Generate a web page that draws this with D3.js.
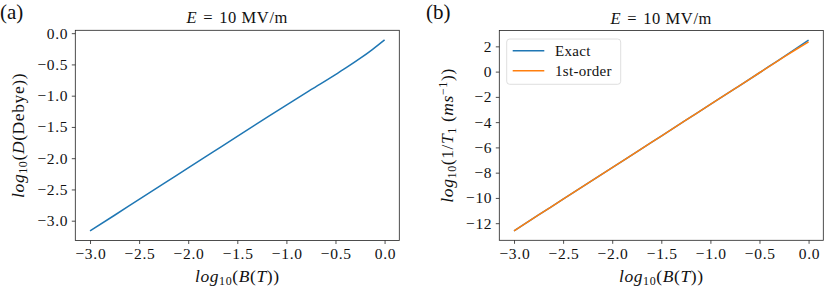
<!DOCTYPE html>
<html>
<head>
<meta charset="utf-8">
<script src="https://cdn.jsdelivr.net/npm/d3@7"></script>
<style>
  body { margin: 0; background: #fff; }
  text { font-family: "Liberation Serif", serif; fill: #111; }
</style>
</head>
<body>
<script>
// data
var logB = [-3.0, -2.75, -2.5, -2.25, -2.0, -1.75, -1.5, -1.25, -1.0, -0.75, -0.5, -0.375, -0.25, -0.125, 0.0];
var logD = [-3.164, -2.913, -2.660, -2.408, -2.155, -1.903, -1.651, -1.400, -1.150, -0.905, -0.662, -0.537, -0.405, -0.262, -0.107];
var rateExact = [-12.60, -11.35, -10.10, -8.85, -7.60, -6.35, -5.10, -3.85, -2.60, -1.35, -0.09, 0.55, 1.19, 1.84, 2.50];
var rateFirst = [-12.60, -11.35, -10.10, -8.85, -7.60, -6.35, -5.10, -3.85, -2.60, -1.35, -0.09, 0.54, 1.16, 1.77, 2.36];
var xTicks = [-3.0, -2.5, -2.0, -1.5, -1.0, -0.5, 0.0];
var yTicksA = [-3.0, -2.5, -2.0, -1.5, -1.0, -0.5, 0.0];
var yTicksB = [-12, -10, -8, -6, -4, -2, 0, 2];
var seriesNames = ["Exact", "1st-order"];
var colors = ["#1f77b4", "#ff7f0e"];

var w = 830, h = 295;

var svg = d3.select("body").append("svg")
    .attr("width", w)
    .attr("height", h);

// pad a domain by 5% like matplotlib
function padded(vals) {
    var ext = d3.extent(vals);
    var m = (ext[1] - ext[0]) * 0.05;
    return [ext[0] - m, ext[1] + m];
}

function panel(left, top, pw, ph, yVals, yTicks, yFmt) {
    var g = svg.append("g").attr("transform", "translate(" + left + "," + top + ")");
    var x = d3.scaleLinear().domain(padded(logB)).range([0, pw]);
    var y = d3.scaleLinear().domain(padded(yVals)).range([ph, 0]);

    var xa = g.append("g")
        .attr("transform", "translate(0," + ph + ")")
        .call(d3.axisBottom(x).tickValues(xTicks).tickFormat(d3.format(".1f")).tickSize(3.5).tickPadding(4));
    var ya = g.append("g")
        .call(d3.axisLeft(y).tickValues(yTicks).tickFormat(yFmt).tickSize(3.5).tickPadding(3.5));
    [xa, ya].forEach(function(a) {
        a.select(".domain").remove();
        a.selectAll("line").attr("stroke", "#222").attr("stroke-width", 0.8);
        a.selectAll("text")
            .attr("font-size", "15.5px")
            .attr("font-family", "Liberation Serif")
            .attr("letter-spacing", "0.7px")
            .attr("fill", "#222");
    });
    xa.selectAll("text").attr("dx", "0.35px");

    g.append("rect")
        .attr("width", pw)
        .attr("height", ph)
        .attr("fill", "none")
        .attr("stroke", "#222")
        .attr("stroke-width", 0.8);

    return {g: g, x: x, y: y, pw: pw, ph: ph};
}

function drawLine(p, vals, color) {
    var line = d3.line()
        .curve(d3.curveMonotoneX)
        .x(function(d, i) { return p.x(logB[i]); })
        .y(function(d) { return p.y(d); });
    p.g.append("path")
        .datum(vals)
        .attr("d", line)
        .attr("fill", "none")
        .attr("stroke", color)
        .attr("stroke-width", 1.5);
}

function title(p) {
    var t = p.g.append("text")
        .attr("x", p.pw / 2)
        .attr("y", -7)
        .attr("text-anchor", "middle")
        .attr("letter-spacing", "0.6px")
        .attr("font-size", "16.5px");
    t.append("tspan").attr("font-style", "italic").text("E");
    t.append("tspan").attr("dx", 6).text("=");
    t.append("tspan").attr("dx", 6).text("10 MV/m");
}

function xLabel(p) {
    var t = p.g.append("text")
        .attr("x", p.pw / 2)
        .attr("y", p.ph + 42)
        .attr("text-anchor", "middle")
        .attr("letter-spacing", "0.6px")
        .attr("font-size", "17.5px");
    t.append("tspan").attr("font-style", "italic").text("log");
    t.append("tspan").attr("font-size", "12px").attr("dy", 3).text("10");
    t.append("tspan").attr("dy", -3).text("(");
    t.append("tspan").attr("font-style", "italic").text("B");
    t.append("tspan").text("(");
    t.append("tspan").attr("font-style", "italic").text("T");
    t.append("tspan").text("))");
}

// (a) dipole
var pa = panel(75.3, 30.3, 324, 210.2, logD, yTicksA, d3.format(".1f"));
drawLine(pa, logD, colors[0]);
title(pa);
xLabel(pa);

var ta = svg.append("text")
    .attr("transform", "translate(24," + (30.3 + 105.1) + ") rotate(-90)")
    .attr("text-anchor", "middle")
    .attr("letter-spacing", "0.6px")
    .attr("font-size", "17.5px");
ta.append("tspan").attr("font-style", "italic").text("log");
ta.append("tspan").attr("font-size", "12px").attr("dy", 3).text("10");
ta.append("tspan").attr("dy", -3).text("(");
ta.append("tspan").attr("font-style", "italic").text("D");
ta.append("tspan").text("(Debye))");

// (b) relaxation rate
var pb = panel(499.3, 30.5, 324, 209.8, rateExact.concat(rateFirst), yTicksB, d3.format("d"));
drawLine(pb, rateExact, colors[0]);
drawLine(pb, rateFirst, colors[1]);
title(pb);
xLabel(pb);

var tb = svg.append("text")
    .attr("transform", "translate(453," + (30.5 + 104.9) + ") rotate(-90)")
    .attr("text-anchor", "middle")
    .attr("letter-spacing", "0.6px")
    .attr("font-size", "17.5px");
tb.append("tspan").attr("font-style", "italic").text("log");
tb.append("tspan").attr("font-size", "12px").attr("dy", 3).text("10");
tb.append("tspan").attr("dy", -3).text("(1/");
tb.append("tspan").attr("font-style", "italic").text("T");
tb.append("tspan").attr("font-size", "12px").attr("dy", 3).text("1");
tb.append("tspan").attr("dy", -3).text(" (");
tb.append("tspan").attr("font-style", "italic").text("ms");
tb.append("tspan").attr("font-size", "12px").attr("dy", -6).text("−1");
tb.append("tspan").attr("dy", 6).text("))");

// legend
var lg = pb.g.append("g").attr("transform", "translate(7.4,8.5)");
lg.append("rect")
    .attr("width", 114)
    .attr("height", 45.3)
    .attr("rx", 3)
    .attr("fill", "#fff")
    .attr("fill-opacity", 0.8)
    .attr("stroke", "#d5d5d5")
    .attr("stroke-width", 0.8);
seriesNames.forEach(function(name, i) {
    var yy = 11.7 + i * 20;
    lg.append("line")
        .attr("x1", 6).attr("x2", 37.6)
        .attr("y1", yy).attr("y2", yy)
        .attr("stroke", colors[i])
        .attr("stroke-width", 1.5);
    lg.append("text")
        .attr("x", 48.3)
        .attr("y", yy + 4.8)
        .attr("font-size", "15px")
        .attr("letter-spacing", "0.3px")
        .text(name);
});

// panel letters
svg.append("text").attr("x", 0).attr("y", 19).attr("font-size", "21px").text("(a)");
svg.append("text").attr("x", 426).attr("y", 19).attr("font-size", "21px").text("(b)");
</script>
</body>
</html>
